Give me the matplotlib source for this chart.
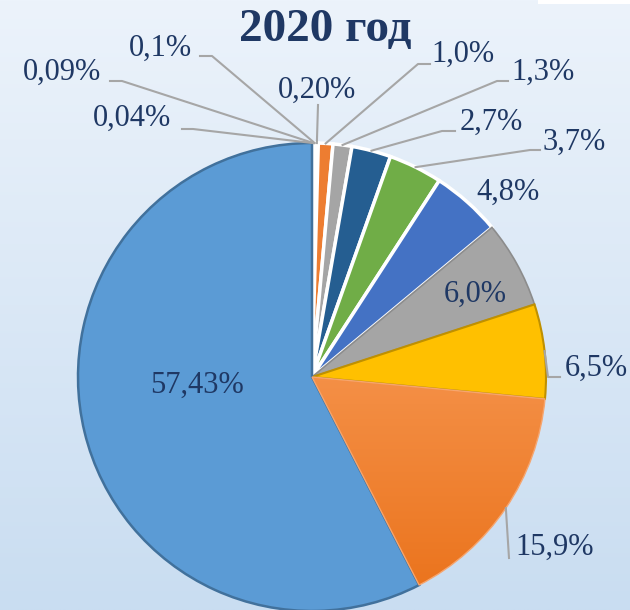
import matplotlib.pyplot as plt
import matplotlib.colors as mcolors
import numpy as np

# доли, % (по часовой стрелке от 12 часов)
shares = [0.04, 0.09, 0.1, 0.20, 1.0, 1.3, 2.7, 3.7, 4.8, 6.0, 6.5, 15.9, 57.43]
labels = ['0,04%', '0,09%', '0,1%', '0,20%', '1,0%', '1,3%', '2,7%', '3,7%',
          '4,8%', '6,0%', '6,5%', '15,9%', '57,43%']
colors = ['#C9C9C9', '#DDEBF7', '#FFF2CC', '#FFD966', '#ED7D31', '#A5A5A5',
          '#255E91', '#70AD47', '#4472C4', '#A5A5A5', '#FFC000', '#F07F2A', '#5B9BD5']
edges = ['white'] * 9 + ['#8C8C8C', '#BF9000', '#F6A56E', '#41719C']
edge_w = [2.5] * 9 + [1.2, 1.5, 1.0, 1.8]

W, H = 630, 610
cx, cy, R = 312, 377, 234          # центр и радиус круга, пиксели (y сверху)

# положение подписей (пиксели, y сверху) и точки выносок
label_pos = [(132, 118), (62, 72), (160, 48), (317, 90), (463, 54), (543, 72),
             (491, 122), (574, 142), (508, 192), (475, 294), (596, 368),
             (555, 547), (197, 385)]
leaders = {0: [(193, 129), (182, 129)], 1: [(122, 81), (110, 81)],
           2: [(212, 56), (200, 56)], 3: [(318, 105)],
           4: [(418, 64), (430, 64)], 5: [(497, 81), (508, 81)],
           6: [(442, 131), (455, 131)], 7: [(530, 150), (540, 150)],
           10: [(548, 377), (560, 377)], 11: [(509, 558)]}

navy = '#1F3864'
font = 'Liberation Serif'


def Y(y):
    return H - y


fig = plt.figure(figsize=(6.3, 6.1), dpi=100)
ax = fig.add_axes([0, 0, 1, 1])

# фон с градиентом
top = np.array(mcolors.to_rgb('#ECF3FB'))
bot = np.array(mcolors.to_rgb('#C9DDF1'))
t = np.linspace(0, 1, 256)[:, None]
grad = top + (bot - top) * t
ax.imshow(grad[:, None, :].repeat(2, axis=1), extent=(0, W, 0, H),
          aspect='auto', zorder=0)
ax.add_patch(plt.Rectangle((538, Y(4)), 92, 4, color='white', zorder=1, lw=0))

wedges, _ = ax.pie(shares, colors=colors, startangle=90, counterclock=False,
                   center=(cx, Y(cy)), radius=R, frame=True)
for w, ec, lw in zip(wedges, edges, edge_w):
    w.set_edgecolor(ec)
    w.set_linewidth(lw)
    w.set_zorder(2)
ax.set_xlim(0, W)
ax.set_ylim(0, H)
ax.set_aspect('equal')
ax.axis('off')

# градиент на оранжевом секторе
og = np.array([mcolors.to_rgb('#F5924A'), mcolors.to_rgb('#EA7119')])
tt = np.linspace(0, 1, 256)[:, None]
ograd = og[0] + (og[1] - og[0]) * tt
im = ax.imshow(ograd[:, None, :].repeat(2, axis=1),
               extent=(cx, cx + R, Y(cy + R), Y(cy - 20)), aspect='auto', zorder=2.5)
im.set_clip_path(wedges[11])
wedges[11].set_zorder(2.6)
wedges[11].set_facecolor('none')
ax.set_xlim(0, W)
ax.set_ylim(0, H)

for i, (w, lab) in enumerate(zip(wedges, labels)):
    x, y = label_pos[i]
    ax.text(x, Y(y), lab, fontsize=22, family=font, color=navy,
            ha='center', va='center', zorder=4)
    if i in leaders:
        ang = np.deg2rad((w.theta1 + w.theta2) / 2)
        px = [cx + R * np.cos(ang)] + [p[0] for p in leaders[i]]
        py = [Y(cy) + R * np.sin(ang)] + [Y(p[1]) for p in leaders[i]]
        ax.plot(px, py, color='#A6A6A6', lw=1.5, zorder=3)

ax.text(325, Y(30), '2020 год', fontsize=34, family=font, weight='bold',
        color=navy, ha='center', va='center', zorder=4)

fig.savefig('out.png', dpi=100)
